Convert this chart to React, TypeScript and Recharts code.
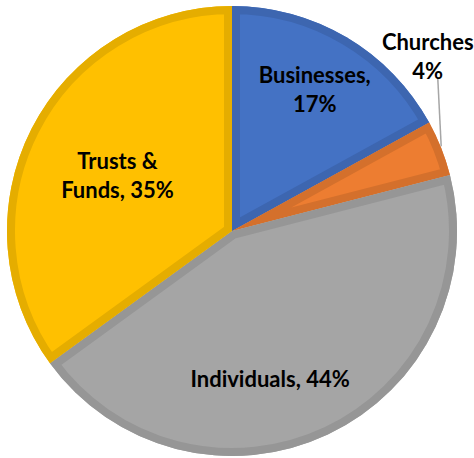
import React from 'react';
import { PieChart, Pie, Cell, Sector } from 'recharts';

const categories = ['Businesses', 'Churches', 'Individuals', 'Trusts & Funds'];
const shares = [17, 4, 44, 35];

const fills = ['#4472C4', '#ED7D31', '#A5A5A5', '#FFC000'];
const borders = ['#3D66B0', '#D4702C', '#969696', '#E5AD00'];

// label layout: radius and polar angle (deg) of the label centre, plus line split
const labelLayout = [
  { r: 165, a: 59.9, lines: (n: string, v: number) => [`${n},`, `${v}%`] },
  { r: 263, a: 41.9, lines: (n: string, v: number) => [n, `${v}%`], leader: true },
  { r: 152, a: -75.5, lines: (n: string, v: number) => [`${n}, ${v}%`] },
  { r: 127.5, a: 153.9, lines: (n: string, v: number) => ['Trusts &', `Funds, ${v}%`] },
];

const data = categories.map((name, i) => ({ name, value: shares[i] }));

const BORDER = 8;
const FONT = 'Lato, "Open Sans", sans-serif';
const FS = 22;
const LH = 29;
const RAD = Math.PI / 180;

const renderLabel = (props: any) => {
  const { cx, cy, outerRadius, startAngle, endAngle, index, midAngle, name, value } = props;
  const lay = labelLayout[index];
  const x = cx + lay.r * Math.cos(lay.a * RAD);
  const y = cy - lay.r * Math.sin(lay.a * RAD);
  const lines = lay.lines(name, value);
  const y0 = y - ((lines.length - 1) * LH) / 2;
  const clipId = `slice-clip-${index}`;
  let leader = null;
  if (lay.leader) {
    const ex = cx + outerRadius * Math.cos(midAngle * RAD);
    const ey = cy - outerRadius * Math.sin(midAngle * RAD);
    leader = (
      <path
        d={`M${ex},${ey - 2}L${x + 10},${y0 + LH + 8}`}
        stroke="#A6A6A6"
        strokeWidth={1.5}
        fill="none"
      />
    );
  }
  return (
    <g>
      <defs>
        <clipPath id={clipId}>
          <Sector cx={cx} cy={cy} innerRadius={0} outerRadius={outerRadius} startAngle={startAngle} endAngle={endAngle} />
        </clipPath>
      </defs>
      <Sector
        cx={cx}
        cy={cy}
        innerRadius={0}
        outerRadius={outerRadius}
        startAngle={startAngle}
        endAngle={endAngle}
        fill="none"
        stroke={borders[index]}
        strokeWidth={BORDER * 2}
        clipPath={`url(#${clipId})`}
      />
      {leader}
      <text
        x={x}
        y={y0}
        textAnchor="middle"
        dominantBaseline="central"
        fontFamily={FONT}
        fontSize={FS}
        fontWeight={700}
        fill="#000"
        stroke="none"
      >
        {lines.map((l: string, k: number) => (
          <tspan key={k} x={x} y={y0 + k * LH}>
            {l}
          </tspan>
        ))}
      </text>
    </g>
  );
};

export default function App() {
  return (
    <div style={{ position: 'absolute', left: 0, top: 0, width: 474, height: 458, background: '#fff' }}>
      <PieChart width={474} height={458} margin={{ top: 0, right: 0, bottom: 0, left: 0 }}>
        <Pie
          data={data}
          dataKey="value"
          nameKey="name"
          cx={232}
          cy={231}
          outerRadius={225}
          startAngle={90}
          endAngle={-270}
          stroke="none"
          labelLine={false}
          label={renderLabel}
          isAnimationActive={false}
        >
          {data.map((d, i) => (
            <Cell key={d.name} fill={fills[i]} />
          ))}
        </Pie>
      </PieChart>
    </div>
  );
}
